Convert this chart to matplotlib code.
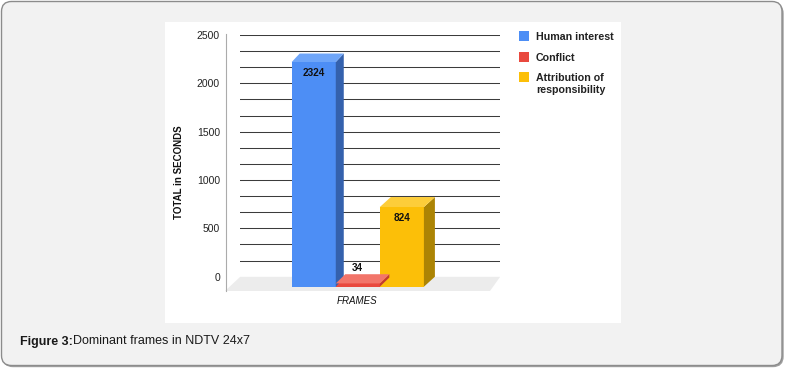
import matplotlib
matplotlib.use('Agg')
import numpy as np
import matplotlib.pyplot as plt
import matplotlib.transforms as mtransforms
from matplotlib.patches import Polygon, Rectangle, FancyBboxPatch
from matplotlib.lines import Line2D
from matplotlib.ticker import MultipleLocator

# ---- data ----
categories = ['Human interest', 'Conflict', 'Attribution of\nresponsibility']
values = [2324, 34, 824]
y_ticks = [0, 500, 1000, 1500, 2000, 2500]
y_label = 'TOTAL in SECONDS'
x_label = 'FRAMES'
caption_bold = 'Figure 3:'
caption_text = 'Dominant frames in NDTV 24x7'

# ---- style ----
front_colors = ['#4d8ef5', '#e9493e', '#fcbf08']
side_colors = ['#3461ad', '#c23a30', '#ac8404']
top_colors = ['#6ea5f8', '#f2756a', '#fdcd3a']
depth_dx = [8, 9.5, 11]
depth_dy = [8.5, 9.2, 10]

plt.rcParams['font.family'] = ['Liberation Sans', 'DejaVu Sans']

W, H = 785, 369
fig = plt.figure(figsize=(W / 100, H / 100), dpi=100)
fig.patch.set_facecolor('white')
ID = mtransforms.IdentityTransform()


def P(x, y):
    return (x, H - y)


# outer rounded frame with shadow
shadow = FancyBboxPatch((3, H - 366.5), 780, 363, boxstyle='round,pad=0,rounding_size=10',
                        fc='#a0a0a0', ec='#a0a0a0', lw=1.0, transform=ID, zorder=-5)
fig.add_artist(shadow)
box = FancyBboxPatch((1.5, H - 365.5), 780.5, 364, boxstyle='round,pad=0,rounding_size=10',
                     fc='#f2f2f2', ec='#8c8c8c', lw=1.0, transform=ID, zorder=-4)
fig.add_artist(box)

# white chart panel
fig.add_artist(Rectangle(P(165, 322.7), 456, 300.7, fc='white', ec='none',
                         transform=ID, zorder=-3))

# floor
fig.add_artist(Polygon([P(225, 291), P(240, 277), P(500, 277), P(490, 291)],
                       closed=True, fc='#ececec', ec='none', transform=ID, zorder=-2))
# left wall edge
fig.add_artist(Line2D([225.5, 225.5], [H - 34, H - 291], color='#ababab', lw=0.8,
                      transform=ID, zorder=-1))

# back wall axes
ax = fig.add_axes([240 / W, (H - 276.7) / H, 260 / W, 241.7 / H])
ax.patch.set_alpha(0)
for s in ax.spines.values():
    s.set_visible(False)
x = np.arange(len(values))
ax.set_xlim(1 - 2.95, 1 + 2.95)
ax.set_ylim(0, 2500)
ax.set_yticks(y_ticks)
ax.yaxis.set_minor_locator(MultipleLocator(500 / 3))
ax.set_xticks([])
ax.set_axisbelow(True)
ax.grid(axis='y', which='both', color='#3c3c3c', lw=0.75)
ax.tick_params(axis='y', which='both', length=0, pad=14.4, labelsize=7.5,
               labelcolor='#222222')

front = ax.transData + mtransforms.ScaledTranslation(-12.2 / 100, -10 / 100,
                                                     fig.dpi_scale_trans)

bars = ax.bar(x, values, width=1, color=front_colors, transform=front, zorder=3,
              clip_on=False)

for i, (xi, v) in enumerate(zip(x, values)):
    bl, br, tr, tl = front.transform([[xi - 0.5, 0], [xi + 0.5, 0],
                                      [xi + 0.5, v], [xi - 0.5, v]])
    d = np.array([depth_dx[i], depth_dy[i]])
    ax.add_patch(Polygon([br, tr, tr + d, br + d], closed=True, fc=side_colors[i],
                         ec='none', transform=ID, zorder=3, clip_on=False))
    ax.add_patch(Polygon([tl, tr, tr + d, tl + d], closed=True, fc=top_colors[i],
                         ec='none', transform=ID, zorder=3, clip_on=False))
    inside = v > 200
    off = -11 if inside else 15
    ax.text(xi, v, str(v), transform=front + mtransforms.ScaledTranslation(0, off / 100, fig.dpi_scale_trans),
            ha='center', va='center', fontsize=7.2, fontweight='bold', color='#111111',
            zorder=5, clip_on=False)

# axis labels
fig.text(178.5, H - 171.7, y_label, transform=ID, rotation=90, ha='center', va='center',
         fontsize=7, fontweight='bold', color='#111111')
fig.text(357, H - 301.3, x_label, transform=ID, ha='center', va='center',
         fontsize=7, fontstyle='italic', color='#111111')

# legend
leg_tops = [31, 52, 71.7]
for i, lab in enumerate(categories):
    fig.add_artist(Rectangle(P(519, leg_tops[i] + 10), 10, 10, fc=front_colors[i], ec='none',
                             transform=ID))
    fig.text(536, H - (leg_tops[i] + 1), lab, transform=ID, ha='left', va='top',
             fontsize=7.7, fontweight='bold', color='#222222', linespacing=1.3)

# caption
t1 = fig.text(20.5, H - 341.5, caption_bold, transform=ID, ha='left', va='center',
              fontsize=9, fontweight='bold', color='#1a1a1a')
fig.canvas.draw()
bb = t1.get_window_extent()
fig.text(bb.x1, H - 341.5, caption_text, transform=ID, ha='left', va='center',
         fontsize=9, color='#1a1a1a')

fig.savefig('out.png', dpi=100)
